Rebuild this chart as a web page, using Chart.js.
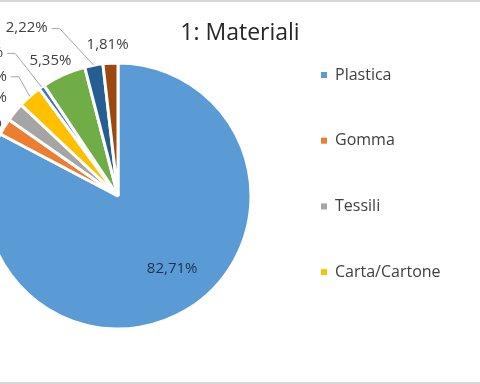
<!DOCTYPE html>
<html>
<head>
<meta charset="utf-8">
<script src="https://cdn.jsdelivr.net/npm/chart.js@4.4.1/dist/chart.umd.min.js"></script>
<style>
  html, body { margin: 0; padding: 0; background: #fff; }
  #wrap { position: relative; width: 480px; height: 384px; overflow: hidden; }
  #wrap:before, #wrap:after { content: ""; position: absolute; left: 0; width: 480px; background: #d6d6d6; }
  #wrap:before { top: 0; height: 2px; }
  #wrap:after { bottom: 0; height: 2px; }
  canvas { position: absolute; left: 0; top: 0; }
</style>
</head>
<body>
<div id="wrap"><canvas id="pie" width="480" height="384"></canvas></div>
<script>
// Data
const chartTitle = "1: Materiali";
const categories = ["Plastica", "Gomma", "Tessili", "Carta/Cartone", "Legno lavorato", "Metallo", "Vetro/Ceramica", "Altro"];
const shares = [82.71, 2.00, 2.30, 2.91, 0.70, 5.35, 2.22, 1.81];
const colors = ["#5b9bd5", "#ed7d31", "#a5a5a5", "#ffc000", "#4472c4", "#70ad47", "#255e91", "#9e480e"];

// where each data label sits (degrees clockwise from top, distance from centre)
const labelPlace = [
  { angle: 143, dist: 90, leader: false, color: "#1f3050" },
  { angle: -61.6, dist: 156, leader: false },
  { angle: -53.2, dist: 165, leader: false },
  { angle: -47.6, dist: 179, leader: true },
  { angle: -43.3, dist: 198, leader: true },
  { angle: -26.4, dist: 152, leader: false },
  { angle: -28.4, dist: 192, leader: true },
  { angle: -3.9, dist: 153, leader: false }
];
const legendShown = 4;

const FONT = "'Open Sans', 'Noto Sans', sans-serif";

function pct(v) {
  return v.toFixed(2).replace(".", ",") + "%";
}

const excelDecor = {
  id: "excelDecor",
  afterDatasetsDraw(chart) {
    const ctx = chart.ctx;
    const meta = chart.getDatasetMeta(0);
    ctx.save();

    // data labels
    ctx.font = "15px " + FONT;
    ctx.textBaseline = "middle";
    ctx.textAlign = "center";
    meta.data.forEach((arc, i) => {
      const p = labelPlace[i];
      const a = (p.angle - 90) * Math.PI / 180;
      const x = arc.x + Math.cos(a) * p.dist;
      const y = arc.y + Math.sin(a) * p.dist;
      const txt = pct(shares[i]);
      ctx.fillStyle = p.color || "#404040";
      ctx.fillText(txt, x, y + 1);
      if (p.leader) {
        const w = ctx.measureText(txt).width;
        const mid = (arc.startAngle + arc.endAngle) / 2;
        const sx = x + w / 2 + 4;
        ctx.strokeStyle = "#a6a6a6";
        ctx.lineWidth = 1;
        ctx.beginPath();
        ctx.moveTo(sx, y + 1.5);
        ctx.lineTo(sx + 8, y + 1.5);
        ctx.lineTo(arc.x + Math.cos(mid) * arc.outerRadius, arc.y + Math.sin(mid) * arc.outerRadius);
        ctx.stroke();
      }
    });

    // title
    ctx.font = "23px " + FONT;
    ctx.fillStyle = "#262626";
    ctx.textAlign = "center";
    ctx.textBaseline = "alphabetic";
    ctx.fillText(chartTitle, 240, 40);

    // legend (only the entries that fit, like the original)
    ctx.font = "16px " + FONT;
    ctx.textAlign = "left";
    ctx.textBaseline = "middle";
    for (let i = 0; i < legendShown; i++) {
      const y = 75 + i * 65.7;
      ctx.fillStyle = colors[i];
      ctx.fillRect(321, y - 3, 6, 6);
      ctx.fillStyle = "#404040";
      ctx.fillText(categories[i], 335, y);
    }
    ctx.restore();
  }
};

new Chart(document.getElementById("pie").getContext("2d"), {
  type: "pie",
  data: {
    labels: categories,
    datasets: [{
      data: shares,
      backgroundColor: colors,
      borderColor: "#ffffff",
      borderWidth: 3,
      radius: 133,
      clip: false
    }]
  },
  options: {
    responsive: false,
    animation: false,
    layout: { padding: { left: 0, right: 244, top: 63, bottom: 55 } },
    plugins: {
      legend: { display: false },
      title: { display: false },
      tooltip: { enabled: false }
    }
  },
  plugins: [excelDecor]
});
</script>
</body>
</html>
